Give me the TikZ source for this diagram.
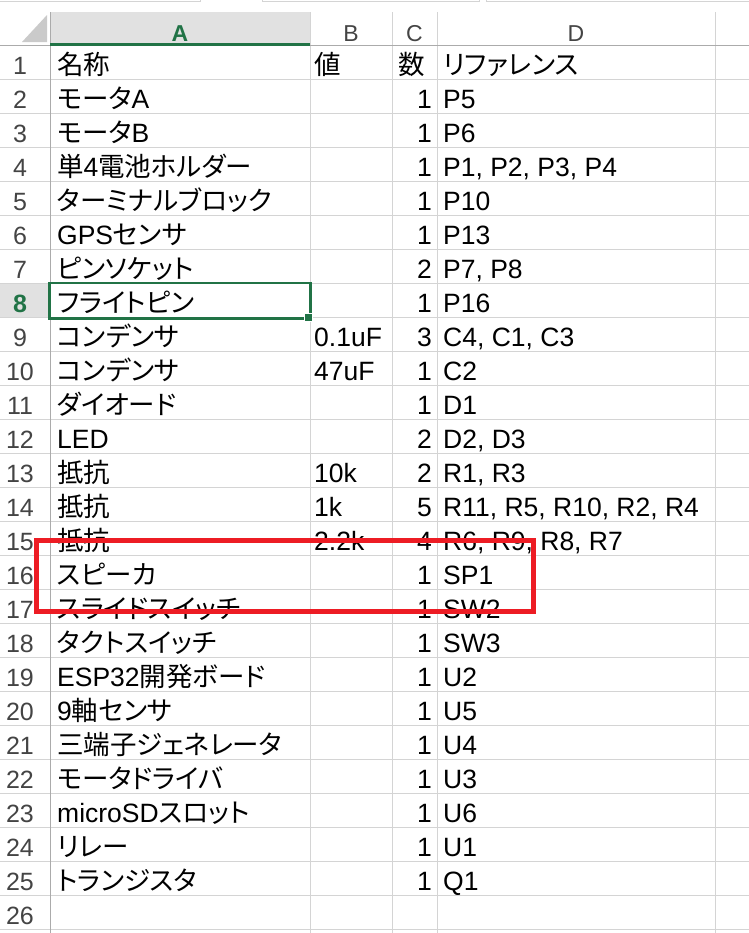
\documentclass[tikz,border=0pt]{standalone}
\usepackage{fontspec}
\setmainfont{Liberation Sans}
\newfontfamily\jpfont[RawFeature=+palt]{Noto Sans CJK JP}
\newcommand{\jp}[1]{{\jpfont #1}}
\definecolor{xlgreen}{HTML}{217346}
\definecolor{gridc}{HTML}{D4D4D4}
\definecolor{hdrline}{HTML}{ABABAB}
\definecolor{hdrbg}{HTML}{E1E1E1}
\definecolor{numc}{HTML}{444444}
\definecolor{markred}{HTML}{ED1C24}
\tikzset{
  cellL/.style={anchor=base west,inner sep=0pt,font=\fontsize{26.5bp}{30bp}\selectfont},
  cellR/.style={anchor=base east,inner sep=0pt,font=\fontsize{26.5bp}{30bp}\selectfont},
  rownum/.style={anchor=base,inner sep=0pt,text=numc,font=\fontsize{25bp}{28bp}\selectfont},
  colhdr/.style={anchor=base,inner sep=0pt,text=numc,font=\fontsize{23bp}{26bp}\selectfont},
  gridline/.style={draw=gridc,line width=1bp},
}
\newcommand{\xlrow}[6][]{%
  \node[rownum,#1] (r#2) at (20,{40+34*#2}) {#2};
  \node[cellL] (a#2) at (57,{40+34*#2}) {#3};
  \node[cellL] (b#2) at (314,{40+34*#2}) {#4};
  \node[cellR] (c#2) at (432,{40+34*#2}) {#5};
  \node[cellL] (d#2) at (443,{40+34*#2}) {#6};}
\begin{document}
\begin{tikzpicture}[x=1bp,y=-1bp]
\useasboundingbox (0,0) rectangle (749,933);
\fill[white] (0,0) rectangle (749,933);
% top strip (formula bar edges)
\draw[draw=gridc,line width=1bp] (0,1.5) -- (200,1.5) -- (200,0);
\draw[draw=gridc,line width=1bp] (262,0) -- (262,1.5) -- (479,1.5) -- (479,0);
\draw[draw=gridc,line width=1bp] (486,0) -- (486,1.5) -- (749,1.5);
% header backgrounds
\fill[hdrbg] (50,12) rectangle (310,45.5);
\fill[hdrbg] (0,283.5) rectangle (50,317.5);
\fill[hdrbg!90!black] (22,42) -- (47,15) -- (47,42) -- cycle;
% grid
\foreach \k in {1,...,26} \draw[gridline] (0,{45.5+34*\k}) -- (749,{45.5+34*\k});
\foreach \x in {310,392,437,715} \draw[gridline] (\x,12) -- (\x,933);
\draw[draw=hdrline,line width=1bp] (50,12) -- (50,933);
\draw[draw=hdrline,line width=1bp] (0,45.5) -- (749,45.5);
\fill[xlgreen] (50,42.5) rectangle (310,45.5);
% column headers
\node[colhdr,text=xlgreen,font=\fontsize{23bp}{26bp}\selectfont\bfseries] (hA) at (180,41) {A};
\node[colhdr] (hB) at (351,41) {B};
\node[colhdr] (hC) at (414.5,41) {C};
\node[colhdr] (hD) at (576,41) {D};
% row 1
\node[rownum] (r1) at (20,74) {1};
\node[cellL] (a1) at (57,74) {\jp{名称}};
\node[cellL] (b1) at (314,74) {\jp{値}};
\node[cellL] (c1) at (398,74) {\jp{数}};
\node[cellL] (d1) at (443,74) {\jp{リファレンス}};
% rows
\xlrow{2}{\jp{モータ}A}{}{1}{P5}
\xlrow{3}{\jp{モータ}B}{}{1}{P6}
\xlrow{4}{\jp{単}4\jp{電池ホルダー}}{}{1}{P1, P2, P3, P4}
\xlrow{5}{\jp{ターミナルブロック}}{}{1}{P10}
\xlrow{6}{GPS\jp{センサ}}{}{1}{P13}
\xlrow{7}{\jp{ピンソケット}}{}{2}{P7, P8}
\xlrow[text=xlgreen,font=\fontsize{25bp}{28bp}\selectfont\bfseries]{8}{\jp{フライトピン}}{}{1}{P16}
\xlrow{9}{\jp{コンデンサ}}{0.1uF}{3}{C4, C1, C3}
\xlrow{10}{\jp{コンデンサ}}{47uF}{1}{C2}
\xlrow{11}{\jp{ダイオード}}{}{1}{D1}
\xlrow{12}{LED}{}{2}{D2, D3}
\xlrow{13}{\jp{抵抗}}{10k}{2}{R1, R3}
\xlrow{14}{\jp{抵抗}}{1k}{5}{R11, R5, R10, R2, R4}
\xlrow{15}{\jp{抵抗}}{2.2k}{4}{R6, R9, R8, R7}
\xlrow{16}{\jp{スピーカ}}{}{1}{SP1}
\xlrow{17}{\jp{スライドスイッチ}}{}{1}{SW2}
\xlrow{18}{\jp{タクトスイッチ}}{}{1}{SW3}
\xlrow{19}{ESP32\jp{開発ボード}}{}{1}{U2}
\xlrow{20}{9\jp{軸センサ}}{}{1}{U5}
\xlrow{21}{\jp{三端子ジェネレータ}}{}{1}{U4}
\xlrow{22}{\jp{モータドライバ}}{}{1}{U3}
\xlrow{23}{microSD\jp{スロット}}{}{1}{U6}
\xlrow{24}{\jp{リレー}}{}{1}{U1}
\xlrow{25}{\jp{トランジスタ}}{}{1}{Q1}
\node[rownum] (r26) at (20,924) {26};
% selected cell
\draw[xlgreen,line width=2.5bp] (49.5,283) rectangle (310.5,318.3);
\draw[white,fill=xlgreen,line width=1bp] (304,313) rectangle (312,321);
% red marker
\draw[markred,line width=5bp] (36,540.5) rectangle (533,611);
\end{tikzpicture}
\end{document}
